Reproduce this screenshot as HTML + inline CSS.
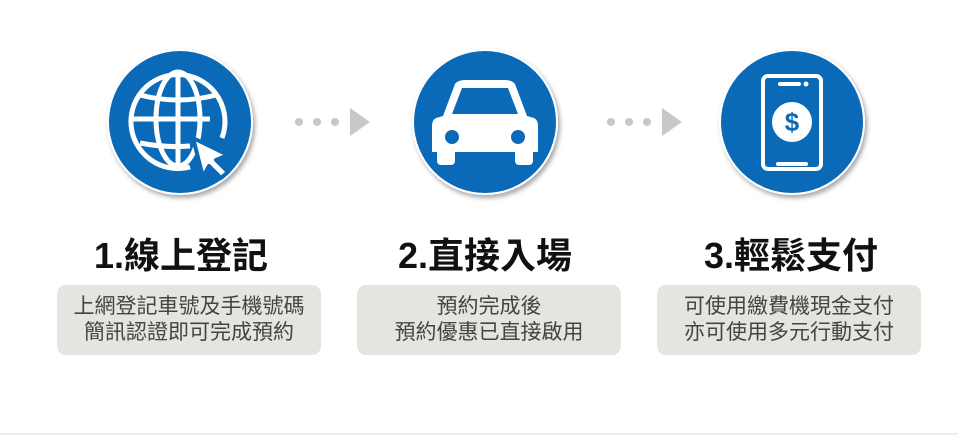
<!DOCTYPE html>
<html><head><meta charset="utf-8"><style>
body{margin:0;width:959px;height:435px;background:#fff;position:relative;overflow:hidden;font-family:"Liberation Sans","Noto Sans CJK TC",sans-serif}
.t{position:absolute;top:236px;width:300px;text-align:center;font-size:36px;font-weight:bold;color:#111;line-height:40px}
.b{position:absolute;top:285px;width:264px;height:70px;background:#e4e4e0;border-radius:9px;text-align:center;font-size:21px;color:#444;line-height:26px;box-sizing:border-box;padding-top:9px}
</style></head><body>
<svg width="959" height="435" style="position:absolute;left:0;top:0">
<defs><filter id="s" x="-20%" y="-20%" width="140%" height="140%"><feDropShadow dx="2" dy="3" stdDeviation="2.5" flood-color="#000" flood-opacity="0.35"/></filter></defs>
<g filter="url(#s)">
<circle cx="180" cy="122" r="73" fill="#fff"/><circle cx="485" cy="122" r="73" fill="#fff"/><circle cx="792" cy="122" r="73" fill="#fff"/>
</g>
<circle cx="180" cy="122" r="71" fill="#0b6ab7"/><circle cx="485" cy="122" r="71" fill="#0b6ab7"/><circle cx="792" cy="122" r="71" fill="#0b6ab7"/>
<g fill="none" stroke="#fff" stroke-width="5">
<path d="M222 138 A47 47 0 1 0 190 167"/>
<ellipse cx="178" cy="119" rx="22" ry="47"/>
<line x1="178" y1="72" x2="178" y2="166"/>
<line x1="131" y1="119" x2="210" y2="119"/>
<path d="M140 95 Q178 105 216 95"/>
<path d="M140 143 Q165 148 190 146"/>
</g>
<path d="M193 138 L228 155 L216 160 L228 172 L221 178 L209 166 L203 177 Z" fill="#fff" stroke="#0b6ab7" stroke-width="4" stroke-linejoin="round"/>
<g fill="#fff">
<path d="M455 84 Q458 80 465 80 L505 80 Q512 80 515 84 L527 116 L534 118 Q538 120 538 126 L538 152 L432 152 L432 126 Q432 120 436 118 L443 116 Z"/>
<rect x="437" y="145" width="18" height="20" rx="4"/><rect x="515" y="145" width="18" height="20" rx="4"/>
</g>
<path d="M462 88 L508 88 L518 114 L452 114 Z" fill="#0b6ab7"/>
<circle cx="452" cy="137" r="7" fill="#0b6ab7"/><circle cx="518" cy="137" r="7" fill="#0b6ab7"/>
<rect x="763" y="76" width="58" height="93" rx="5" fill="none" stroke="#fff" stroke-width="4"/>
<line x1="780" y1="84" x2="799" y2="84" stroke="#fff" stroke-width="4" stroke-linecap="round"/>
<circle cx="806" cy="84" r="2.5" fill="#fff"/>
<line x1="778" y1="164" x2="806" y2="164" stroke="#fff" stroke-width="4" stroke-linecap="round"/>
<circle cx="792" cy="122" r="20" fill="#fff"/>
<text x="792" y="131" text-anchor="middle" font-size="26" font-weight="bold" fill="#0b6ab7" font-family="Liberation Sans">$</text>
<g fill="#c8c8c8">
<circle cx="299" cy="122" r="4"/><circle cx="317" cy="122" r="4"/><circle cx="335" cy="122" r="4"/>
<path d="M350 108 L370 122 L350 136 Z"/>
<circle cx="611" cy="122" r="4"/><circle cx="629" cy="122" r="4"/><circle cx="647" cy="122" r="4"/>
<path d="M662 108 L682 122 L662 136 Z"/>
</g>
<rect x="0" y="433" width="958" height="2" fill="#eee"/>
</svg>
<div class="t" style="left:31px">1.線上登記</div>
<div class="t" style="left:335px">2.直接入場</div>
<div class="t" style="left:641px">3.輕鬆支付</div>
<div class="b" style="left:57px">上網登記車號及手機號碼<br>簡訊認證即可完成預約</div>
<div class="b" style="left:357px">預約完成後<br>預約優惠已直接啟用</div>
<div class="b" style="left:657px">可使用繳費機現金支付<br>亦可使用多元行動支付</div>
</body></html>
